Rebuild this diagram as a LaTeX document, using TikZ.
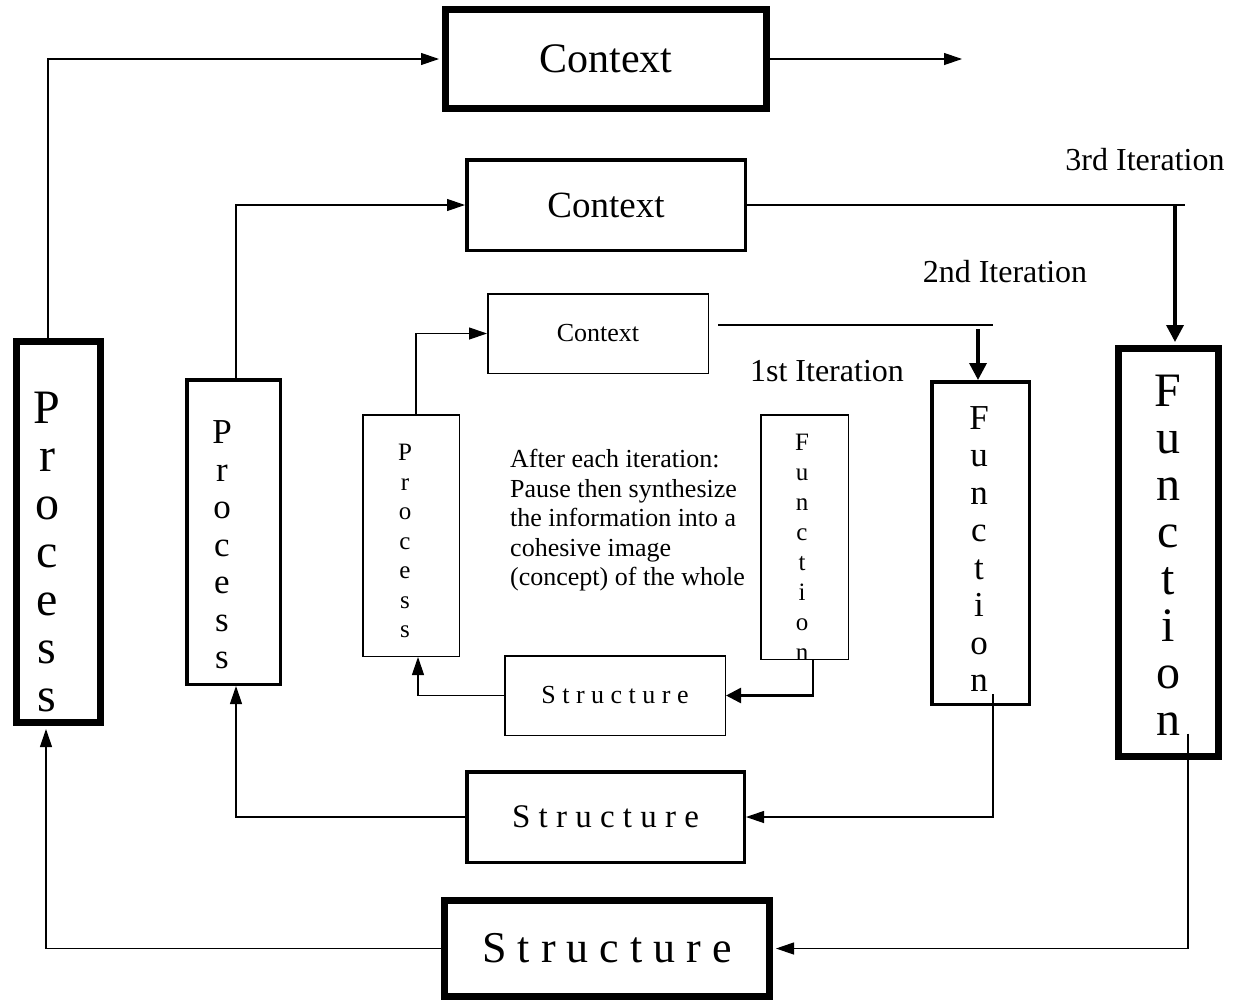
\documentclass[tikz,border=0pt]{standalone}
\usepackage{fontspec}
\setmainfont{Liberation Serif}
\usetikzlibrary{arrows.meta, positioning, calc}

\begin{document}
\begin{tikzpicture}[x=1pt, y=-1pt,
    box/.style={rectangle, draw, inner sep=0pt},
    box1/.style={box, line width=1.5pt},
    box2/.style={box, line width=3.5pt},
    box3/.style={box, line width=7pt},
    vword/.style={align=center, inner sep=0pt},
    link/.style={line width=1.2pt},
    arrow/.style={-{Triangle[length=18pt, width=12pt]}, line width=1.2pt},
    drop/.style={-{Triangle[length=17pt, width=17pt]}, line width=3.5pt}
]
    \useasboundingbox (0,0) rectangle (1236,1004);

    % context boxes
    \node[box3, minimum width=321pt, minimum height=99pt, font=\fontsize{42}{50}\selectfont]   (ctx3) at (606,59)    {Context};
    \node[box2, minimum width=278.5pt, minimum height=90.5pt, font=\fontsize{37}{44}\selectfont] (ctx2) at (606,205) {Context};
    \node[box1, minimum width=220.5pt, minimum height=79.5pt, font=\fontsize{26}{31}\selectfont] (ctx1) at (598,333.5) {Context};

    % process boxes
    \node[box3, minimum width=84pt, minimum height=381pt]     (proc3) at (58.5,532) {};
    \node[box2, minimum width=93.5pt, minimum height=304.5pt] (proc2) at (233.5,532) {};
    \node[box1, minimum width=96.5pt, minimum height=241.5pt] (proc1) at (411,535.5) {};
    \node[vword, font=\fontsize{48}{48}\selectfont]   (proc3txt) at (47,552)  {P\\r\\o\\c\\e\\s\\s};
    \node[vword, font=\fontsize{35}{37.5}\selectfont] (proc2txt) at (222,545) {P\\r\\o\\c\\e\\s\\s};
    \node[vword, font=\fontsize{25}{29.5}\selectfont] (proc1txt) at (405,541) {P\\r\\o\\c\\e\\s\\s};

    % function boxes
    \node[box1, minimum width=87.5pt, minimum height=244.5pt] (func1) at (804.5,537) {};
    \node[box2, minimum width=97.5pt, minimum height=322.5pt] (func2) at (980.5,543) {};
    \node[box3, minimum width=100pt, minimum height=408pt]    (func3) at (1168.5,552.5) {};
    \node[vword, font=\fontsize{25}{30}\selectfont]   (func1txt) at (802,547)  {F\\u\\n\\c\\t\\i\\o\\n};
    \node[vword, font=\fontsize{35}{37.5}\selectfont] (func2txt) at (979,549)  {F\\u\\n\\c\\t\\i\\o\\n};
    \node[vword, font=\fontsize{48}{47}\selectfont]   (func3txt) at (1168,555) {F\\u\\n\\c\\t\\i\\o\\n};

    % structure boxes
    \node[box1, minimum width=220.5pt, minimum height=79.5pt, font=\fontsize{26}{31}\selectfont] (struct1) at (615,695.5) {S t r u c t u r e};
    \node[box2, minimum width=277.5pt, minimum height=90.5pt, font=\fontsize{33}{40}\selectfont] (struct2) at (605.5,817) {S t r u c t u r e};
    \node[box3, minimum width=325pt, minimum height=96pt, font=\fontsize{44}{52}\selectfont]     (struct3) at (607,948.5) {S t r u c t u r e};

    % labels
    \node[font=\fontsize{32}{38}\selectfont] (iter3) at (1145,160) {3rd Iteration};
    \node[font=\fontsize{32}{38}\selectfont] (iter2) at (1005,272) {2nd Iteration};
    \node[font=\fontsize{32}{38}\selectfont] (iter1) at (827,371)  {1st Iteration};
    \node[align=left, anchor=north west, inner sep=0pt, font=\fontsize{26}{29.5}\selectfont] (note) at (510,449)
        {After each iteration:\\Pause then synthesize\\the information into a\\cohesive image\\(concept) of the whole};

    % process -> context
    \coordinate (out3) at (962,59);
    \draw[arrow, shorten >=3pt] ([xshift=-10.5pt]proc3.north) |- (ctx3.west);
    \draw[arrow] (ctx3.east) -- (out3);
    \draw[arrow] ([xshift=2.5pt]proc2.north) |- (ctx2.west);
    \draw[arrow] ([xshift=5pt]proc1.north) |- (ctx1.west);

    % context -> function
    \coordinate (it3end) at (1185,205);
    \coordinate (drop3) at (1175,205);
    \draw[link] (ctx2.east) -- (it3end);
    \draw[drop, shorten >=3pt] (drop3) -- (drop3 |- func3.north);
    \coordinate (it2end) at (993,325);
    \coordinate (drop2) at (978,329);
    \draw[link] ([xshift=9pt, yshift=8.5pt]ctx1.east) -- (it2end);
    \draw[drop] (drop2) -- (drop2 |- func2.north);

    % function -> structure -> process
    \draw[-{Triangle[length=15pt, width=15pt]}, line width=2.5pt] ([xshift=8.5pt]func1.south) |- (struct1.east);
    \draw[arrow] (struct1.west) -| ([xshift=7pt]proc1.south);
    \draw[arrow] ([xshift=12.5pt, yshift=12pt]func2.south) |- (struct2.east);
    \draw[arrow] (struct2.west) -| ([xshift=2.5pt]proc2.south);
    \draw[arrow, shorten >=3pt] ([xshift=19.5pt, yshift=26.5pt]func3.south) |- (struct3.east);
    \draw[arrow, shorten >=3pt] (struct3.west) -| ([xshift=-12.5pt]proc3.south);
\end{tikzpicture}
\end{document}
